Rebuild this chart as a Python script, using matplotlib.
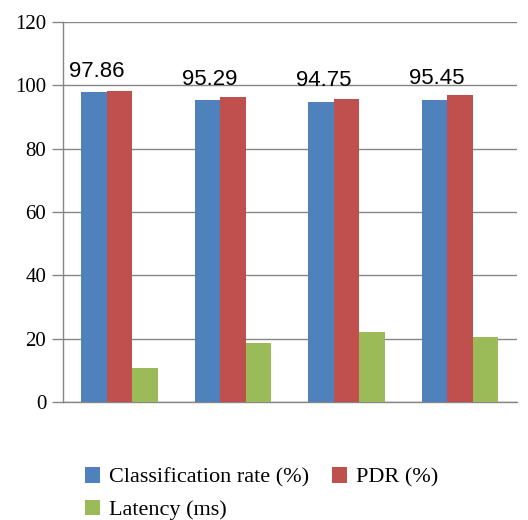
import numpy as np
import matplotlib.pyplot as plt

# dados
grupos = [1, 2, 3, 4]
taxa_classificacao = [97.86, 95.29, 94.75, 95.45]
pdr = [98.3, 96.3, 95.7, 96.9]
latencia = [10.6, 18.5, 22.0, 20.4]
rotulos = ["97.86", "95.29", "94.75", "95.45"]

cores = ["#4F81BD", "#C0504D", "#9BBB59"]
cinza = "#868686"

fig = plt.figure(figsize=(5.28, 5.20), dpi=100)
ax = fig.add_axes([0.119, 0.227, 0.860, 0.731])

x = np.arange(len(grupos))
w = 0.225
h1 = ax.bar(x - w, taxa_classificacao, w, color=cores[0], label="Classification rate (%)", zorder=3)
h2 = ax.bar(x, pdr, w, color=cores[1], label="PDR (%)", zorder=3)
h3 = ax.bar(x + w, latencia, w, color=cores[2], label="Latency (ms)", zorder=3)

# rótulos em cima das barras azuis
for xi, yi, txt in zip(x - w, taxa_classificacao, rotulos):
    ax.text(xi + 0.02, yi + 3.3, txt, ha="center", va="bottom",
            fontsize=16, family="Liberation Sans", zorder=4)

ax.set_xlim(-0.5, len(grupos) - 0.5)
ax.set_ylim(0, 120)
ax.set_yticks(np.arange(0, 121, 20))
ax.set_xticks([])
ax.yaxis.grid(True, color=cinza, linewidth=1.0, zorder=0)

for s in ["top", "right"]:
    ax.spines[s].set_visible(False)
for s in ["left", "bottom"]:
    ax.spines[s].set_color(cinza)
    ax.spines[s].set_linewidth(1.0)

ax.tick_params(axis="y", length=8, width=1.0, color=cinza, pad=4)
for lbl in ax.get_yticklabels():
    lbl.set_family("Liberation Serif")
    lbl.set_fontsize(15)

# ordem para preencher por linha com ncol=2
handles = [h1, h3, h2]
labels = [h.get_label() for h in handles]
fig.legend(handles, labels, loc="upper left", bbox_to_anchor=(0.144, 0.119), ncol=2,
           frameon=False, prop={"family": "Liberation Serif", "size": 16},
           handlelength=0.7, handleheight=0.7, handletextpad=0.4,
           columnspacing=1.0, labelspacing=0.55, borderaxespad=0)

fig.savefig("out.png", dpi=100)
